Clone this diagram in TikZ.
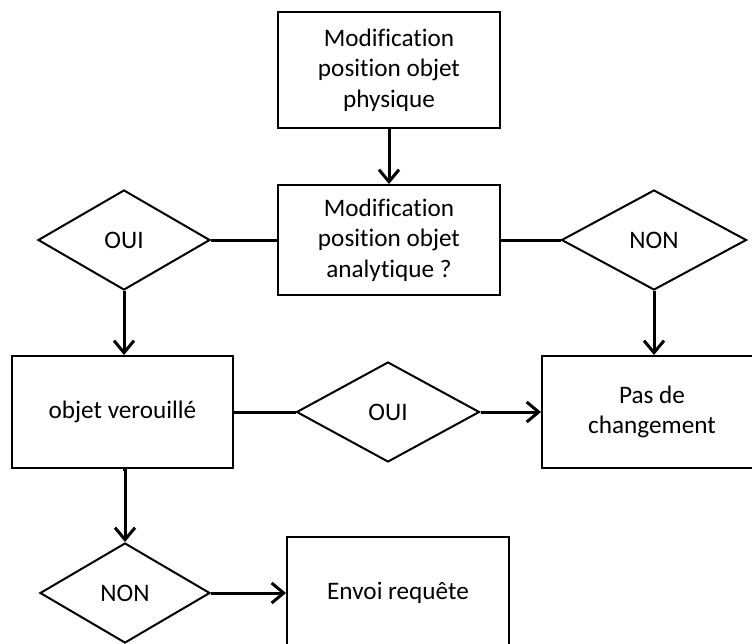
\documentclass[tikz,border=0pt]{standalone}
\usepackage{fontspec}
\setmainfont{Carlito}[Ligatures=NoCommon]
\usepackage{tikz}
\usetikzlibrary{arrows.meta, shapes.geometric}

\begin{document}
\begin{tikzpicture}[x=0.5pt, y=-0.5pt,
  boite/.style={draw, line width=1pt, rectangle, align=center, inner sep=0pt, font=\fontsize{12.6}{15.3}\selectfont},
  losange/.style={draw, line width=1pt, diamond, inner sep=0pt, minimum height=50pt, font=\fontsize{12.6}{15.3}\selectfont},
  fleche/.style={line width=1.5pt, -{Straight Barb[length=6pt, width=10pt]}},
  trait/.style={line width=1.5pt}]
  \clip (0,0) rectangle (752,644);

  % boites
  \node[boite, minimum width=111pt, minimum height=58pt] (phys) at (389,70) {Modification\\position objet\\physique};
  \node[boite, minimum width=111pt, minimum height=55pt] (ana) at (389,240) {Modification\\position objet\\analytique ?};
  \node[boite, minimum width=110.5pt, minimum height=56pt] (verrou) at (122.5,412) {objet verouillé};
  \node[boite, minimum width=110pt, minimum height=56pt] (pas) at (652,412) {Pas de\\changement};
  \node[boite, minimum width=111pt, minimum height=56pt] (envoi) at (398,593) {Envoi requête};

  % decisions
  \node[losange, minimum width=86pt] (oui1) at (124,240) {OUI};
  \node[losange, minimum width=92.5pt] (non1) at (654,240) {NON};
  \node[losange, minimum width=91.5pt] (oui2) at (388,412) {OUI};
  \node[losange, minimum width=85pt] (non2) at (125,593) {NON};

  \draw[fleche] (phys) -- (ana);
  \draw[trait] (ana.west) -- (oui1.east);
  \draw[trait] (ana.east) -- (non1.west);
  \draw[fleche] (oui1.south) -- (oui1.south |- verrou.north);
  \draw[fleche] (non1.south) -- (non1.south |- pas.north);
  \draw[trait] (verrou.east) -- (oui2.west);
  \draw[fleche] (oui2.east) -- (pas.west);
  \draw[fleche] (verrou.south) -- (verrou.south -| non2.north) -- (non2.north);
  \draw[fleche] (non2.east) -- (envoi.west);
\end{tikzpicture}
\end{document}
